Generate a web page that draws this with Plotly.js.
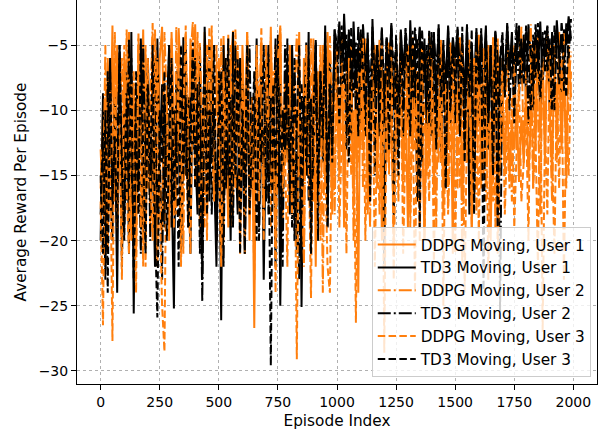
<!DOCTYPE html>
<html>
<head>
<meta charset="utf-8">
<script src="https://cdn.plot.ly/plotly-3.0.1.min.js"></script>
<style>html,body{margin:0;padding:0;background:#fff;}#chart{width:608px;height:438px;}</style>
</head>
<body>
<div id="chart"></div>
<script>
// Episode index sampled every 10 episodes
const episodes = Array.from({length: 200}, (_, i) => i * 10);

const seriesNames = ["DDPG Moving, User 1", "TD3 Moving, User 1", "DDPG Moving, User 2",
                     "TD3 Moving, User 2", "DDPG Moving, User 3", "TD3 Moving, User 3"];

const ddpgUser1 = [
 -16,-10,-19,-6,-14,-3.5,-17,-5,-12,-20,
 -6,-15,-4,-18,-9,-21,-5,-13,-3.8,-16,
 -7,-19,-4.2,-12,-22,-6,-3.6,-15,-9,-20,
 -4,-11,-17,-3.7,-8,-14,-5,-19,-4.5,-10,
 -3.4,-13,-7,-18,-4,-9,-15,-5,-12,-20,
 -6,-16,-4.3,-11,-19,-7,-3.9,-14,-8,-17,
 -5,-12,-4,-20,-9,-26.7,-6,-14,-4.5,-18,
 -8,-13,-3.6,-16,-5,-11,-3.5,-19,-7,-14,
 -5,-17,-9,-12,-4,-20,-6,-15,-8,-18,
 -4.5,-22,-7,-13,-5,-16,-4,-11,-18,-6,
 -9,-15,-4.2,-19,-7,-12,-5,-17,-8,-24,
 -5,-13,-4.5,-18,-8,-11,-5,-16,-6,-20,
 -7,-14,-4.8,-12,-18,-6,-10,-4,-15,-9,
 -19,-5,-13,-7,-17,-4.3,-11,-20,-6,-14,
 -5,-16,-8,-12,-4.6,-18,-7,-13,-5,-21,
 -6,-11,-4.4,-17,-9,-14,-5,-19,-7,-12,
 -4.2,-16,-8,-13,-5,-20,-9,-11,-4.5,-15,
 -10,-14,-9,-15,-11,-13,-9.5,-15.5,-10.5,-14,
 -8,-15,-11,-5,-13,-4,-12,-6,-14,-4.5,
 -10,-15,-5,-12,-4,-13,-7,-14,-5,-9];

const td3User1 = [
 -20,-8.7,-22,-13,-6,-18,-10,-24,-5,-15,
 -19,-7,-21,-4,-25.6,-9,-16,-5,-20,-11,
 -6,-17,-13,-22,-4.5,-14,-8,-19,-10,-5,
 -16,-25.2,-7,-12,-20,-4.4,-15,-9,-21,-6,
 -13,-18,-5,-23,-3.6,-11,-17,-7,-14,-22,
 -8,-26.1,-5,-16,-10,-20,-4,-13,-18,-6,
 -12,-21,-5,-17,-9,-14,-4.5,-19,-7,-23,
 -11,-5,-16,-8,-22,-4.2,-25,-10,-14,-6,
 -18,-5,-13,-21,-7,-25.1,-9,-15,-4,-20,
 -11,-5,-17,-8,-14,-3.5,-19,-6,-12,-3.8,
 -6,-3.2,-9,-2.6,-7,-4,-12,-3.2,-8,-5,
 -11,-3.5,-7,-4.5,-16,-3,-9,-5,-12,-3.8,
 -21.8,-4.5,-8,-3.3,-10,-5,-13,-3.8,-7,-4.2,
 -11,-3.1,-8,-5,-17,-3.6,-9,-4.5,-12,-3.9,
 -7,-4,-10,-3.4,-14,-5,-8,-3.5,-11,-4.4,
 -6,-3.8,-12,-4.6,-9,-3.4,-18,-5,-8,-3.7,
 -11,-4.2,-7,-3.5,-13,-5,-9,-3.9,-19,-6,
 -5,-9,-3.3,-7,-4,-10,-5.5,-3.5,-8,-4.2,
 -9,-3.4,-6,-10,-4,-7,-3.2,-8,-5,-3.6,
 -10,-4,-7,-3.1,-6,-9,-3.8,-5,-2.8,-4.5];

const ddpgUser2 = [
 -13,-18,-5,-21,-8,-14,-4,-19,-10,-6,
 -15,-3.8,-12,-20,-7,-17,-4.5,-11,-22,-5,
 -16,-9,-3.3,-18,-6,-13,-20,-4,-10,-15,
 -5,-19,-3.6,-12,-8,-21,-4.2,-14,-6,-3.2,
 -16,-9,-4.8,-13,-19,-5,-11,-3.5,-17,-7,
 -14,-4.5,-20,-8,-12,-5,-18,-3.8,-10,-15,
 -6,-21,-4,-13,-9,-17,-5,-11,-3.7,-19,
 -7,-15,-4.4,-12,-20,-6,-3.6,-16,-9,-13,
 -5,-18,-8,-4.2,-15,-11,-22,-6,-13,-4.5,
 -17,-8,-12,-5,-24,-7,-14,-4.3,-10,-18,
 -6,-13,-4.5,-17,-9,-12,-5,-20,-8,-14,
 -4.2,-16,-7,-11,-19,-5,-13,-8,-4.6,-17,
 -10,-5,-15,-7,-21,-4.8,-12,-9,-16,-5.5,
 -11,-18,-4.4,-13,-7,-20,-6,-10,-15,-4.3,
 -12,-8,-19,-5,-14,-6,-11,-17,-4.7,-13,
 -7,-16,-5,-22,-9,-12,-4.6,-15,-6,-18,
 -8,-13,-5.2,-17,-10,-14,-4.4,-19,-7,-12,
 -6,-15,-4.5,-11,-17,-5,-13,-8,-3.6,-14,
 -7,-12,-3.4,-16,-5,-10,-18,-6,-13,-4.2,
 -11,-17,-5,-14,-7,-12,-4.1,-16,-8,-5.5];

const td3User2 = [
 -18,-12,-23,-7,-16,-20,-9,-13,-6,-22,
 -10,-17,-4.5,-14,-19,-7,-12,-21,-5,-15,
 -8,-20,-11,-6,-18,-13,-23,-9,-15,-5,
 -19,-10,-14,-7,-21,-12,-5,-17,-9,-13,
 -6,-16,-11,-24.7,-8,-14,-4.5,-18,-10,-20,
 -7,-13,-22,-6,-15,-9,-19,-5,-12,-17,
 -8,-21,-11,-5,-16,-13,-7,-20,-10,-14,
 -6,-18,-9,-12,-4.5,-16,-8,-22,-5,-13,
 -10,-19,-6,-14,-23,-8,-12,-4.8,-17,-9,
 -15,-4.5,-20,-7,-11,-5,-16,-8,-13,-4.2,
 -9,-3.6,-6,-4.4,-13,-3.8,-8,-5,-10,-3.5,
 -7,-3.4,-12,-4.6,-9,-3.9,-15,-5,-8,-3.6,
 -11,-4.5,-7,-3.5,-18,-4.2,-9,-5.5,-12,-3.8,
 -8,-4,-10,-3.6,-6,-3.7,-14,-5,-9,-4.1,
 -12,-4.4,-7,-3.8,-10,-5.5,-16,-3.9,-8,-4.6,
 -11,-3.6,-7,-4.8,-13,-3.5,-9,-5.2,-17,-4,
 -8,-3.7,-12,-4.5,-10,-5,-14,-4,-6,-25.5,
 -4.5,-8,-3.5,-10,-5,-6.5,-3.3,-9,-4.8,-7,
 -3.6,-11,-5,-8,-3.4,-6,-9.5,-4,-7,-3.5,
 -8,-5,-10,-3.7,-6,-4.2,-8.5,-3.3,-6,-3];

const ddpgUser3 = [
 -17,-26.5,-9,-20,-13,-27.7,-6,-18,-11,-23,
 -5,-16,-21,-8,-14,-24,-4,-19,-10,-22,
 -6,-15,-20,-3.8,-12,-17,-25,-28.5,-9,-19,
 -4.5,-13,-18,-6,-22,-10,-3.5,-16,-21,-7,
 -12,-4,-19,-14,-8,-20,-3.6,-11,-17,-5,
 -15,-22,-7,-13,-4.2,-19,-10,-16,-5,-21,
 -8,-14,-4.5,-18,-11,-23,-6,-17,-9,-20,
 -5,-12,-19,-7,-24,-10,-4,-16,-13,-22,
 -6,-18,-11,-29.1,-8,-15,-21,-5,-13,-24.4,
 -7,-17,-11,-20,-5,-14,-22,-24,-9,-16,
 -5,-19,-12,-8,-21,-6,-15,-10,-26.3,-7,
 -13,-4.5,-20,-9,-16,-6,-22,-11,-18,-5,
 -28.6,-8,-14,-5,-23,-10,-17,-6,-21,-12,
 -5,-19,-9,-24,-7,-15,-4.8,-20,-11,-17,
 -6,-22,-10,-14,-5,-25,-8,-18,-12,-6,
 -21,-9,-16,-5,-24,-11,-7,-19,-13,-5.5,
 -20,-8,-15,-6,-23,-10,-17,-5,-21,-12,
 -7,-18,-12,-16,-9,-19,-13,-8,-17,-14,
 -10,-20,-6,-16,-12,-22,-7,-27,-11,-18,
 -5,-14,-21,-8,-16,-6,-23,-10,-15,-7];

const td3User3 = [
 -15,-21,-10,-24,-7,-17,-12,-19,-5,-14,
 -20,-9,-16,-6,-23,-11,-18,-4.5,-13,-21,
 -8,-15,-5,-19,-25.9,-10,-14,-7,-20,-12,
 -6,-17,-11,-22,-5,-15,-9,-19,-13,-4.8,
 -16,-8,-21,-12,-6,-18,-10,-14,-5,-20,
 -11,-7,-17,-13,-4.5,-19,-9,-15,-6,-21,
 -10,-16,-5,-18,-12,-7,-20,-9,-14,-5,
 -17,-11,-29.6,-8,-15,-6,-19,-10,-13,-4.5,
 -16,-8,-20,-11,-5,-18,-9,-14,-6,-21,
 -10,-4.8,-16,-7,-12,-4,-19,-8,-14,-3.8,
 -5,-11,-3.5,-8,-4.2,-14,-3.6,-9,-4.8,-12,
 -3.8,-7,-10,-4,-17,-3.6,-8,-5,-11,-3.9,
 -9,-4.4,-13,-3.6,-7,-5,-15,-4,-10,-3.7,
 -6,-12,-3.9,-9,-4.5,-19,-3.8,-8,-5,-11,
 -4,-7,-13,-3.7,-9,-4.6,-16,-3.5,-10,-5,
 -8,-4.3,-12,-3.6,-14,-5,-9,-3.8,-18,-4.5,
 -7,-4.4,-23.8,-3.8,-11,-5,-15,-4.2,-19,-6,
 -4,-9,-3.6,-7,-5,-11,-3.8,-6.5,-4.5,-8,
 -3.5,-6,-10,-4.2,-7.5,-3.3,-9,-5,-3.9,-7,
 -4.5,-10,-3.5,-6,-8,-3.2,-5.5,-9,-3.6,-4.8];

const xTickVals = [0, 250, 500, 750, 1000, 1250, 1500, 1750, 2000];
const yTickVals = [-30, -25, -20, -15, -10, -5];
const yTickText = ["\u221230", "\u221225", "\u221220", "\u221215", "\u221210", "\u22125"];

const seriesValues = [ddpgUser1, td3User1, ddpgUser2, td3User2, ddpgUser3, td3User3];
const seriesColors = ["#ff7f0e", "#000000", "#ff7f0e", "#000000", "#ff7f0e", "#000000"];
const seriesDash = ["solid", "solid", "13px,3px,2px,3px", "13px,3px,2px,3px", "7.5px,3.3px", "7.5px,3.3px"];

const traces = seriesValues.map((vals, k) => ({
  x: episodes,
  y: vals,
  type: "scatter",
  mode: "lines",
  name: seriesNames[k],
  legendgroup: "g" + k,
  line: {color: seriesColors[k], width: 2, dash: seriesDash[k]}
}));

const tickFont = {family: "DejaVu Sans, sans-serif", size: 14, color: "#000"};
const titleFont = {family: "DejaVu Sans, sans-serif", size: 15.3, color: "#000"};

const layout = {
  width: 608, height: 438,
  margin: {l: 77, r: 11, t: 0, b: 54, pad: 0},
  paper_bgcolor: "#fff", plot_bgcolor: "#fff",
  font: tickFont,
  showlegend: true,
  legend: {
    x: 0.988, y: 0.018, xanchor: "right", yanchor: "bottom",
    bgcolor: "rgba(255,255,255,0.8)", bordercolor: "#cccccc", borderwidth: 1,
    font: {family: "DejaVu Sans, sans-serif", size: 15.3, color: "#000"},
    tracegroupgap: 5.5,
    itemwidth: 38,
    traceorder: "normal"
  },
  xaxis: {
    range: [-100, 2100],
    tickmode: "array", tickvals: xTickVals,
    ticks: "outside", ticklen: 5, tickwidth: 1, tickcolor: "#000",
    showline: true, linecolor: "#000", linewidth: 1, mirror: false,
    showgrid: true, gridcolor: "#b0b0b0", griddash: "dot", gridwidth: 1,
    zeroline: false,
    tickfont: tickFont,
    title: {text: "Episode Index", font: titleFont, standoff: 6},
    automargin: false
  },
  yaxis: {
    range: [-31.0, -1.54],
    tickmode: "array", tickvals: yTickVals, ticktext: yTickText,
    ticks: "outside", ticklen: 5, tickwidth: 1, tickcolor: "#000",
    showline: true, linecolor: "#000", linewidth: 1, mirror: true,
    showgrid: true, gridcolor: "#b0b0b0", griddash: "dot", gridwidth: 1,
    zeroline: false,
    tickfont: tickFont,
    title: {text: "Average Reward Per Episode", font: titleFont, standoff: 8},
    automargin: false
  }
};

Plotly.newPlot("chart", traces, layout, {displayModeBar: false, staticPlot: true});
</script>
</body>
</html>
